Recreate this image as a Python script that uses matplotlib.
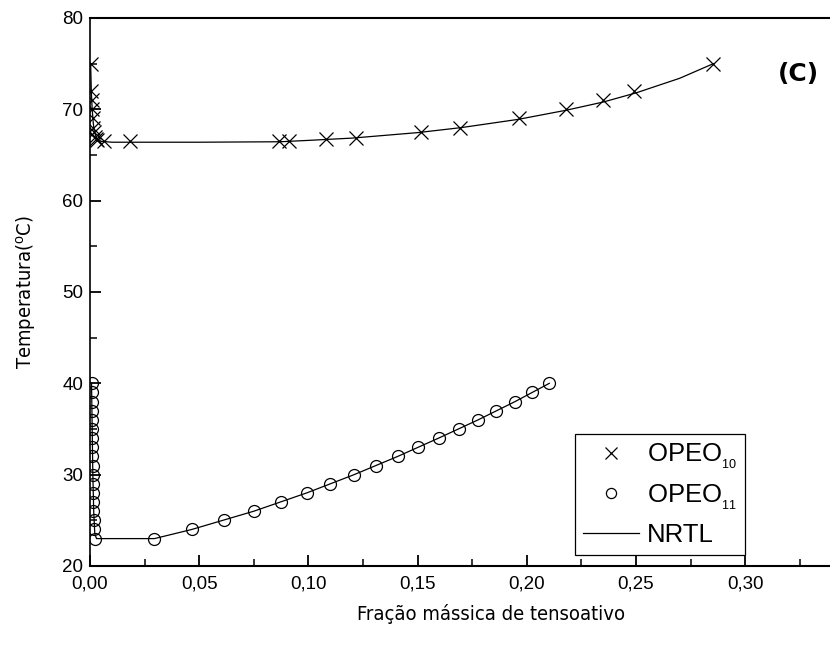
import matplotlib
matplotlib.use("Agg")
import matplotlib.pyplot as plt
from matplotlib.ticker import MultipleLocator, FixedLocator, FuncFormatter

# ---------------- data ----------------
opeo10_x = [0.0003, 0.0006, 0.0008, 0.0010, 0.0012, 0.0015, 0.0018, 0.0022, 0.0027, 0.0032,
            0.0064, 0.0183, 0.0867, 0.0911, 0.108, 0.1218, 0.1516, 0.1694, 0.1964,
            0.218, 0.2347, 0.2492, 0.2854]
opeo10_T = [75.0, 72.0, 71.0, 70.0, 69.0, 68.0, 67.5, 67.0, 66.8, 66.6,
            66.5, 66.5, 66.5, 66.5, 66.7, 66.9, 67.5, 68.0, 69.0,
            70.0, 71.0, 72.0, 75.0]

opeo11_x = [0.0007, 0.0008, 0.0008, 0.0009, 0.0009, 0.0010, 0.0010, 0.0011, 0.0011,
            0.0012, 0.0012, 0.0013, 0.0014, 0.0015, 0.0016, 0.0018, 0.0020, 0.0024,
            0.0295, 0.0466, 0.0615, 0.0750, 0.0875, 0.0992, 0.1100, 0.1209, 0.1311,
            0.1409, 0.1503, 0.1596, 0.1688, 0.1777, 0.1860, 0.1946, 0.2022, 0.2103]
opeo11_T = [40, 39, 38, 37, 36, 35, 34, 33, 32, 31, 30, 29, 28, 27, 26, 25, 24, 23,
            23, 24, 25, 26, 27, 28, 29, 30, 31,
            32, 33, 34, 35, 36, 37, 38, 39, 40]

nrtl10_x = [0.0003, 0.0006, 0.0010, 0.0015, 0.0020, 0.0030, 0.0050, 0.0100, 0.0200,
            0.0500, 0.0870, 0.1000, 0.1200, 0.1500, 0.1700, 0.1960, 0.2180, 0.2350,
            0.2500, 0.2700, 0.2854]
nrtl10_T = [75.0, 72.0, 70.0, 68.5, 67.5, 66.9, 66.5, 66.4, 66.4,
            66.4, 66.45, 66.6, 66.85, 67.45, 68.0, 68.9, 69.9, 70.8,
            71.8, 73.4, 75.0]

nrtl11_x = [0.0007, 0.0010, 0.0013, 0.0017, 0.0022, 0.0030, 0.0100, 0.0295, 0.0466,
            0.0750, 0.0992, 0.1209, 0.1409, 0.1596, 0.1777, 0.1946, 0.2103]
nrtl11_T = [40.0, 35.0, 30.0, 26.0, 23.5, 23.0, 23.0, 23.0, 24.0,
            26.0, 28.0, 30.0, 32.0, 34.0, 36.0, 38.0, 40.0]

x_major_ticks = [0.00, 0.05, 0.10, 0.15, 0.20, 0.25, 0.30]
x_minor_ticks = [0.025, 0.075, 0.125, 0.175, 0.225, 0.275, 0.325]
y_major = 10
xlim = (0.0, 0.3672)
ylim = (20, 80)

# ---------------- style ----------------
plt.rcParams['font.family'] = ['Liberation Sans', 'DejaVu Sans']
plt.rcParams['mathtext.fontset'] = 'custom'
plt.rcParams['mathtext.rm'] = 'Liberation Sans'
plt.rcParams['mathtext.it'] = 'Liberation Sans:italic'
plt.rcParams['mathtext.bf'] = 'Liberation Sans:bold'

W, H = 830, 648
fig = plt.figure(figsize=(W / 100, H / 100), dpi=100)
ax = fig.add_axes([90 / W, 82 / H, 802 / W, 548 / H])

ax.plot(nrtl10_x, nrtl10_T, color='black', lw=0.9, zorder=2)
ax.plot(nrtl11_x, nrtl11_T, color='black', lw=0.9, zorder=2)
h10, = ax.plot(opeo10_x, opeo10_T, linestyle='none', marker='x', ms=10.5, mew=0.9,
               color='black', zorder=3)
h11, = ax.plot(opeo11_x, opeo11_T, linestyle='none', marker='o', ms=8.6, mew=0.9,
               markerfacecolor='none', markeredgecolor='black', zorder=3)
hl, = ax.plot([], [], color='black', lw=0.9)

ax.set_xlim(*xlim)
ax.set_ylim(*ylim)
ax.xaxis.set_major_locator(FixedLocator(x_major_ticks))
ax.xaxis.set_minor_locator(FixedLocator(x_minor_ticks))
ax.yaxis.set_major_locator(MultipleLocator(y_major))
ax.yaxis.set_minor_locator(MultipleLocator(y_major / 2))
ax.xaxis.set_major_formatter(FuncFormatter(lambda v, p: f"{v:.2f}".replace('.', ',')))
ax.yaxis.set_major_formatter(FuncFormatter(lambda v, p: f"{v:.0f}"))

ax.tick_params(which='both', direction='in', top=False, right=False, labelsize=13.5)
ax.tick_params(which='major', length=8, width=1.3)
ax.tick_params(which='minor', length=5, width=1.1)
ax.tick_params(axis='x', which='major', pad=7)
ax.tick_params(axis='y', which='major', pad=5)
for s in ['bottom', 'top']:
    ax.spines[s].set_linewidth(1.5)
ax.spines['left'].set_linewidth(1.2)
ax.spines['right'].set_visible(False)

ax.set_xlabel('Fração mássica de tensoativo', fontsize=14.5, family=['DejaVu Sans'],
              fontstretch='condensed', labelpad=8)
ax.set_ylabel('Temperatura($^{\\mathrm{o}}$C)', fontsize=14.5, family=['DejaVu Sans'],
              fontstretch='condensed', labelpad=17)

fig.text(798 / W, 1 - 74 / H, '(C)', fontsize=18, fontweight='bold', family=['DejaVu Sans'],
         ha='center', va='center')

leg = ax.legend([h10, h11, hl], ['OPEO$_{_{10}}$', 'OPEO$_{_{11}}$', 'NRTL'],
                loc='upper left', bbox_to_anchor=(575 / W, 1 - 434 / H),
                bbox_transform=fig.transFigure, fontsize=18.5, frameon=True,
                fancybox=False, edgecolor='black', framealpha=1,
                borderaxespad=0, borderpad=0.3, labelspacing=0.45,
                handlelength=2.2, handletextpad=0.3, markerscale=0.85)
leg.get_frame().set_linewidth(0.9)

fig.savefig('out.png', dpi=100, facecolor='white')
